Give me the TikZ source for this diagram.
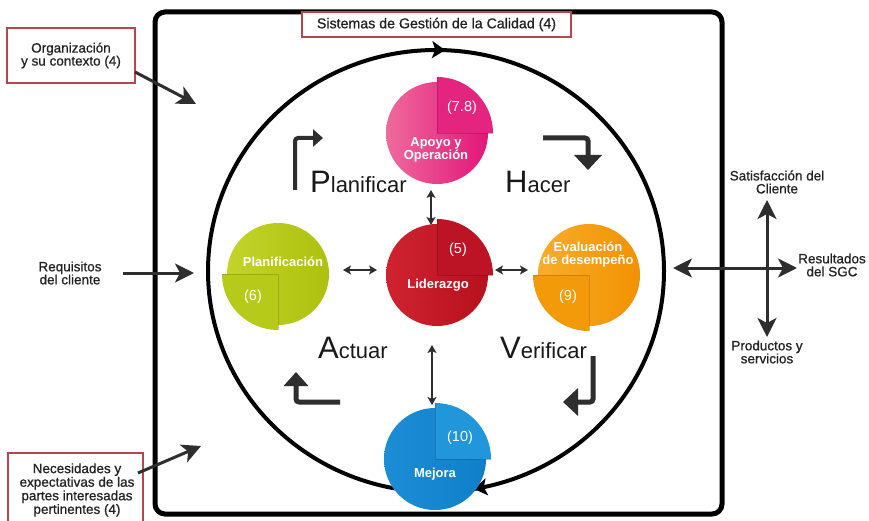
\documentclass[tikz,border=0pt]{standalone}
\usepackage{fontspec}
\setmainfont{Liberation Sans}
\newfontfamily\medfont[FakeBold=0.7]{Liberation Sans}
\usetikzlibrary{arrows.meta,decorations.markings}
\definecolor{boxred}{HTML}{B5474D}
\definecolor{dk}{HTML}{2E2E2E}
\definecolor{txt}{HTML}{222222}
\definecolor{pinkA}{HTML}{EE6A9C}
\definecolor{pinkB}{HTML}{E3157A}
\definecolor{pinkQ}{HTML}{E4247F}
\definecolor{redA}{HTML}{CF2330}
\definecolor{redB}{HTML}{B8101E}
\definecolor{redQ}{HTML}{BC1425}
\definecolor{grnA}{HTML}{C2D42A}
\definecolor{grnB}{HTML}{ADC10E}
\definecolor{grnQ}{HTML}{B6CA1A}
\definecolor{orA}{HTML}{F7AE2A}
\definecolor{orB}{HTML}{F29100}
\definecolor{orQ}{HTML}{F39A0A}
\definecolor{blA}{HTML}{1C8ED6}
\definecolor{blB}{HTML}{0F7FC8}
\definecolor{blQ}{HTML}{2196DB}
\begin{document}
\begin{tikzpicture}[x=1pt,y=1pt,
  lbl/.style={font=\medfont\fontsize{13.5}{13}\selectfont, align=center, text=txt, inner sep=0},
  redbox/.style={draw=boxred, line width=1.6pt, fill=white},
  outarrow/.style={draw=dk, line width=3pt, -{Stealth[length=19pt,width=19pt,inset=5pt]}},
  dblarrow/.style={draw=dk, line width=3pt, {Stealth[length=19pt,width=19pt,inset=5pt]}-{Stealth[length=19pt,width=19pt,inset=5pt]}},
  smallarrow/.style={draw=dk, line width=1.6pt, {Stealth[length=8pt,width=9pt,inset=2pt]}-{Stealth[length=8pt,width=9pt,inset=2pt]}},
  bentarrow/.style={draw=dk, line width=5pt, rounded corners=3pt},
  disc/.style={circle, minimum size=102pt, inner sep=0, shading=axis, shading angle=90},
  inlbl/.style={text=white, font=\bfseries\fontsize{13}{13}\selectfont, align=center, inner sep=0},
  numlbl/.style={text=white, font=\fontsize{14.5}{14.5}\selectfont, inner sep=0},
  bigw/.style={anchor=base west, inner sep=0, text=black!90, font=\fontsize{22}{22}\selectfont},
  quad/.style={line width=0.6pt, draw opacity=0.35}
]
\useasboundingbox (0,0) rectangle (869,520);
\fill[white] (0,0) rectangle (869,520);

% outer frame
\draw[line width=5pt, rounded corners=10pt] (155,6) rectangle (722,508);

% big cycle
\coordinate (bigc) at (436,249);
\draw[line width=4pt, postaction={decorate}, decoration={markings,
  mark=at position 0.2435 with {\arrowreversed{Stealth[length=13pt,width=17pt,inset=3pt]}},
  mark=at position 0.777 with {\arrowreversed{Stealth[length=13pt,width=17pt,inset=3pt]}}}]
  (bigc) ellipse [x radius=228, y radius=221];

% title box
\node[redbox, minimum width=269pt, minimum height=25pt, inner sep=0, font=\medfont\fontsize{14.2}{14}\selectfont, text=txt] (sgc) at (436.5,495.5) {Sistemas de Gestión de la Calidad (4)};

% left boxes
\node[redbox, minimum width=128pt, minimum height=55pt, lbl] (org) at (71,464.5) {Organización\\y su contexto (4)};
\draw[redbox] (8,-10) rectangle (143,67);
\node[lbl, font=\medfont\fontsize{13.5}{12.4}\selectfont] (nec) at (77,30) {Necesidades y\\expectativas de las\\partes interesadas\\pertinentes (4)};
\node[lbl] (req) at (70,247) {Requisitos\\del cliente};

\coordinate (orgS) at (135,448);
\coordinate (orgE) at (196,416);
\draw[outarrow] (orgS) -- (orgE);
\coordinate (necS) at (138,47);
\coordinate (necE) at (201,74);
\draw[outarrow] (necS) -- (necE);
\coordinate (reqS) at (123,247);
\coordinate (reqE) at (194,247);
\draw[outarrow] (reqS) -- (reqE);

% right outputs
\node[lbl] (sat) at (777,338) {Satisfacción del\\Cliente};
\node[lbl] (res) at (832,255) {Resultados\\del SGC};
\node[lbl] (prod) at (767,168) {Productos y\\servicios};
\coordinate (hL) at (673,252);
\coordinate (hR) at (797,252);
\coordinate (vT) at (767,320);
\coordinate (vB) at (767,183);
\draw[dblarrow] (hL) -- (hR);
\draw[dblarrow] (vT) -- (vB);

% discs
\node[disc, left color=pinkA, right color=pinkB] (apoyo) at (437,387) {};
\fill[pinkQ] (apoyo.center) -- ++(56,0) arc[start angle=0,end angle=90,radius=56] -- cycle;
\draw[quad, pinkB!60!black] (apoyo.center) ++(0,56) -- (apoyo.center) -- ++(56,0);

\node[disc, left color=redA, right color=redB] (lider) at (437,245) {};
\fill[redQ] (lider.center) -- ++(56,0) arc[start angle=0,end angle=90,radius=56] -- cycle;
\draw[quad, redB!60!black] (lider.center) ++(0,56) -- (lider.center) -- ++(56,0);

\node[disc, left color=grnA, right color=grnB] (plan) at (278,246) {};
\fill[grnQ] (plan.center) -- ++(-56,0) arc[start angle=180,end angle=270,radius=56] -- cycle;
\draw[quad, grnB!60!black] (plan.center) ++(-56,0) -- (plan.center) -- ++(0,-56);

\node[disc, left color=orA, right color=orB] (eval) at (589,245) {};
\fill[orQ] (eval.center) -- ++(-56,0) arc[start angle=180,end angle=270,radius=56] -- cycle;
\draw[quad, orB!60!black] (eval.center) ++(-56,0) -- (eval.center) -- ++(0,-56);

\node[disc, left color=blA, right color=blB] (mejora) at (435,61) {};
\fill[blQ] (mejora.center) -- ++(56,0) arc[start angle=0,end angle=90,radius=56] -- cycle;
\draw[quad, blB!60!black] (mejora.center) ++(0,56) -- (mejora.center) -- ++(56,0);

% disc labels
\node[numlbl] (n78) at (462,412) {(7.8)};
\node[inlbl] (tapoyo) at (436,370) {Apoyo y\\Operación};
\node[numlbl] (n5) at (458,270) {(5)};
\node[inlbl] (tlider) at (438,235) {Liderazgo};
\node[inlbl] (tplan) at (283,258) {Planificación};
\node[numlbl] (n6) at (253,223) {(6)};
\node[inlbl] (teval) at (588,265) {Evaluación\\de desempeño};
\node[numlbl] (n9) at (568,223) {(9)};
\node[numlbl] (n10) at (460,82) {(10)};
\node[inlbl] (tmej) at (435,46) {Mejora};

% small double arrows
\coordinate (a1) at (431,330); \coordinate (a2) at (431,295);
\draw[smallarrow] (a1) -- (a2);
\coordinate (b1) at (343,250); \coordinate (b2) at (377,250);
\draw[smallarrow] (b1) -- (b2);
\coordinate (c1) at (495,250); \coordinate (c2) at (528,250);
\draw[smallarrow] (c1) -- (c2);
\coordinate (d1) at (432,175); \coordinate (d2) at (432,115);
\draw[smallarrow] (d1) -- (d2);

% PDCA words
\node[bigw] (wP) at (310,327) {{\fontsize{31}{31}\selectfont P}lanificar};
\node[bigw] (wH) at (505,327) {{\fontsize{31}{31}\selectfont H}acer};
\node[bigw] (wA) at (318,162) {{\fontsize{31}{31}\selectfont A}ctuar};
\node[bigw] (wV) at (500,162) {{\fontsize{31}{31}\selectfont V}erificar};

% bent arrows
\coordinate (p1) at (295,330); \coordinate (p2) at (295,382); \coordinate (p3) at (323,382);
\draw[bentarrow, line width=4pt, -{Triangle[length=10pt,width=17pt]}] (p1) -- (p2) -- (p3);
\coordinate (h1) at (543,382); \coordinate (h2) at (588,382); \coordinate (h3) at (588,350);
\draw[bentarrow, -{Triangle[length=15pt,width=27pt]}] (h1) -- (h2) -- (h3);
\coordinate (v1) at (593,164); \coordinate (v2) at (593,118); \coordinate (v3) at (563,118);
\draw[bentarrow, -{Triangle[length=15pt,width=27pt]}] (v1) -- (v2) -- (v3);
\coordinate (q1) at (340,118); \coordinate (q2) at (296,118); \coordinate (q3) at (296,148);
\draw[bentarrow, -{Triangle[length=14pt,width=24pt]}] (q1) -- (q2) -- (q3);
\end{tikzpicture}
\end{document}
